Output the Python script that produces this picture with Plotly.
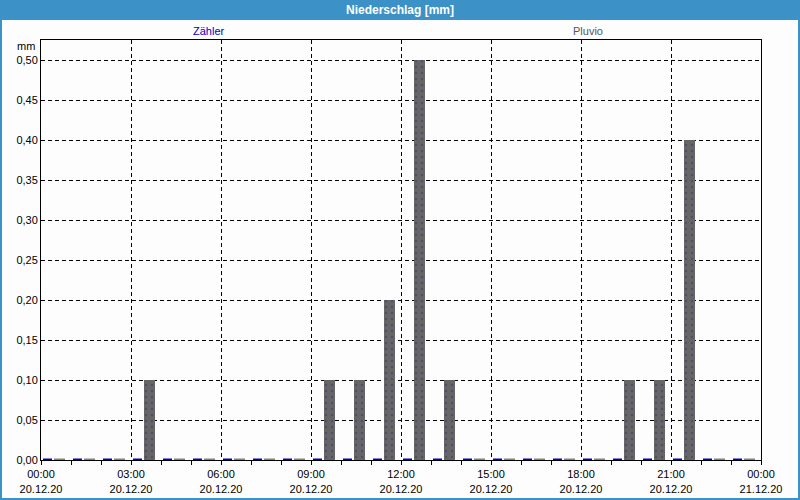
import plotly.graph_objects as go
import pandas as pd

hours = ["2020-12-20 00:00", "2020-12-20 01:00", "2020-12-20 02:00", "2020-12-20 03:00",
         "2020-12-20 04:00", "2020-12-20 05:00", "2020-12-20 06:00", "2020-12-20 07:00",
         "2020-12-20 08:00", "2020-12-20 09:00", "2020-12-20 10:00", "2020-12-20 11:00",
         "2020-12-20 12:00", "2020-12-20 13:00", "2020-12-20 14:00", "2020-12-20 15:00",
         "2020-12-20 16:00", "2020-12-20 17:00", "2020-12-20 18:00", "2020-12-20 19:00",
         "2020-12-20 20:00", "2020-12-20 21:00", "2020-12-20 22:00", "2020-12-20 23:00"]
zaehler = [0, 0, 0, 0, 0, 0, 0, 0, 0, 0, 0, 0, 0, 0, 0, 0, 0, 0, 0, 0, 0, 0, 0, 0]
pluvio = [0, 0, 0, 0.1, 0, 0, 0, 0, 0, 0.1, 0.1, 0.2, 0.5, 0.1, 0, 0, 0, 0, 0, 0.1, 0.1, 0.4, 0, 0]
series_names = ["Zähler", "Pluvio"]
title_text = "Niederschlag [mm]"
unit_text = "mm"

MIN = 60000
W, H = 800, 500
L, R, T, B = 41, 39, 40, 40
PW, PH = W - L - R, H - T - B

def px(p):
    return (p - L) / PW

def py(p):
    return (H - B - p) / PH

FONT = "Liberation Sans, Arial, sans-serif"
BLUE = "#0000c8"
GRAY = "#666666"

fig = go.Figure()

fig.add_trace(go.Bar(x=hours, y=zaehler, name=series_names[0], offset=4 * MIN, width=18 * MIN,
                     marker=dict(color=BLUE, line=dict(width=0)), showlegend=False))
fig.add_trace(go.Bar(x=hours, y=pluvio, name=series_names[1], offset=26 * MIN, width=22 * MIN,
                     marker=dict(color=GRAY, line=dict(width=0),
                                 pattern=dict(shape=".", fgcolor="#34347a", bgcolor=GRAY,
                                              size=6, solidity=0.12)),
                     showlegend=False))

def dashes(vals, off, wid):
    xs, ys = [], []
    for h, v in zip(hours, vals):
        if v == 0:
            t = pd.Timestamp(h)
            xs += [t + pd.Timedelta(milliseconds=off), t + pd.Timedelta(milliseconds=off + wid), None]
            ys += [v, v, None]
    return xs, ys

xz, yz = dashes(zaehler, 4 * MIN, 18 * MIN)
fig.add_trace(go.Scatter(x=xz, y=yz, mode="lines", line=dict(color=BLUE, width=3),
                         showlegend=False, hoverinfo="skip"))
xp, yp = dashes(pluvio, 26 * MIN, 22 * MIN)
fig.add_trace(go.Scatter(x=xp, y=yp, mode="lines", line=dict(color="#808080", width=3),
                         showlegend=False, hoverinfo="skip"))

fig.update_layout(
    width=W, height=H,
    margin=dict(l=L, r=R, t=T, b=B, autoexpand=False),
    paper_bgcolor="#fcfdfc", plot_bgcolor="#fcfdfc",
    separators=",.",
    font=dict(family=FONT, size=11, color="#000000"),
    bargap=0, barmode="overlay",
    xaxis=dict(type="date", range=["2020-12-20 00:00", "2020-12-21 00:00"],
               tick0="2020-12-20 00:00", dtick=3 * 3600000,
               tickformat="%H:%M<br>%d.%m.%y", automargin=False,
               ticks="outside", ticklen=4, tickcolor="#000", tickwidth=1,
               minor=dict(dtick=3600000, ticks="outside", ticklen=4, tickcolor="#000", showgrid=False),
               showgrid=True, gridcolor="#000", gridwidth=1, griddash="4px,3px",
               showline=True, linecolor="#000", linewidth=1, mirror=True,
               zeroline=False, tickfont=dict(size=11, color="#000")),
    yaxis=dict(range=[0, 0.525], tick0=0, dtick=0.05, tickformat=".2f", automargin=False,
               ticks="", ticklen=0, showgrid=True, gridcolor="#000", gridwidth=1,
               griddash="4px,3px", showline=True, linecolor="#000", linewidth=1,
               mirror=True, zeroline=False, tickfont=dict(size=11, color="#000")),
    shapes=[
        dict(type="rect", xref="paper", yref="paper", x0=px(0), x1=px(W), y0=py(0), y1=py(20),
             fillcolor="#3c91c7", line=dict(width=0), layer="above"),
        dict(type="rect", xref="paper", yref="paper", x0=px(1), x1=px(W - 1), y0=py(1), y1=py(H - 1),
             fillcolor="rgba(0,0,0,0)", line=dict(color="#3c91c7", width=2), layer="above"),
    ],
    annotations=[
        dict(text="<b>" + title_text + "</b>", xref="paper", yref="paper", x=px(400), y=py(10),
             xanchor="center", yanchor="middle", showarrow=False,
             font=dict(family=FONT, size=12, color="#ffffff")),
        dict(text=series_names[0], xref="paper", yref="paper", x=px(209), y=py(31),
             xanchor="center", yanchor="middle", showarrow=False,
             font=dict(family=FONT, size=11, color=BLUE)),
        dict(text=series_names[1], xref="paper", yref="paper", x=px(588), y=py(31),
             xanchor="center", yanchor="middle", showarrow=False,
             font=dict(family=FONT, size=11, color="#555566")),
        dict(text=unit_text, xref="paper", yref="paper", x=px(37), y=py(46),
             xanchor="right", yanchor="middle", showarrow=False,
             font=dict(family=FONT, size=11, color="#000")),
    ],
)

fig.write_html("out.html")
